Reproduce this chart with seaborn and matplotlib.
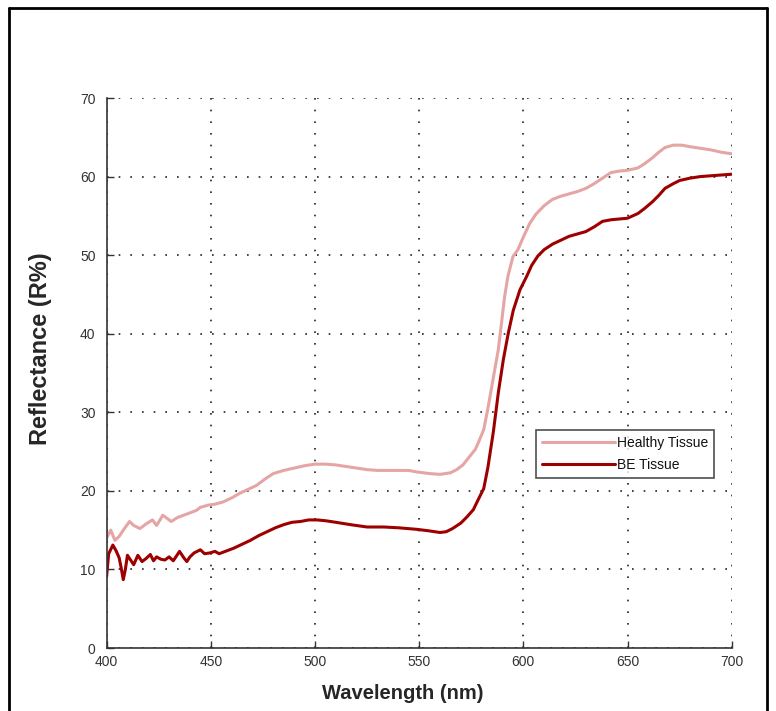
import matplotlib
matplotlib.use("Agg")
import matplotlib.pyplot as plt
from matplotlib.lines import Line2D
import seaborn as sns
import pandas as pd

# ---- data ----
healthy_wl = [400, 402, 404, 406, 408, 411, 413, 416, 419, 422, 424, 427, 429, 431, 434,
              437, 440, 443, 445, 449, 452, 456, 460, 464, 468, 472, 476, 480, 485, 490,
              495, 500, 505, 510, 515, 520, 525, 530, 535, 540, 545, 549, 555, 560, 565,
              568, 571, 574, 577, 579, 581, 583, 585, 587, 588, 589.5, 591, 592.6, 595,
              597.4, 600, 603, 606, 610, 614, 618, 622, 626, 630, 634, 638, 642, 646, 650,
              655, 658, 662, 665, 668, 672, 676, 680, 685, 690, 695, 700]
healthy_r = [14.0, 15.0, 13.7, 14.2, 15.0, 16.1, 15.6, 15.2, 15.8, 16.3, 15.6, 16.9, 16.5, 16.1, 16.6,
             16.9, 17.2, 17.5, 17.9, 18.2, 18.3, 18.6, 19.1, 19.7, 20.2, 20.7, 21.5, 22.2, 22.6, 22.9,
             23.2, 23.4, 23.4, 23.3, 23.1, 22.9, 22.7, 22.6, 22.6, 22.6, 22.6, 22.4, 22.2, 22.1, 22.3,
             22.7, 23.3, 24.3, 25.3, 26.5, 27.8, 30.5, 33.5, 36.5, 38.0, 41.3, 44.7, 47.3, 49.8,
             50.7, 52.3, 54.0, 55.2, 56.3, 57.1, 57.5, 57.8, 58.1, 58.5, 59.1, 59.8, 60.5, 60.7, 60.8,
             61.1, 61.6, 62.4, 63.1, 63.7, 64.0, 64.0, 63.8, 63.6, 63.4, 63.1, 62.9]

be_wl = [400, 401, 403, 404.5, 406, 407, 408, 409, 410, 411.5, 413, 415, 417, 419, 421,
         422.5, 424, 426, 428, 430, 432, 435, 437, 438.5, 440, 442, 445, 447, 449.6, 452,
         454, 457, 461, 465, 469, 473, 477, 481, 485, 489, 493, 497, 501, 505, 510, 517,
         525, 533, 540, 549, 555, 560, 563, 566, 570, 573, 576, 578, 581, 583, 585.6, 588,
         590.4, 592.8, 595.2, 598.4, 601.6, 604, 607, 610, 614, 618, 622, 626, 630, 634,
         638, 642, 646, 650, 655, 658, 662, 665, 668, 672, 675, 680, 685, 690, 695, 700]
be_r = [9.1, 12.0, 13.1, 12.4, 11.5, 10.2, 8.7, 10.0, 11.8, 11.2, 10.6, 11.8, 11.0, 11.4, 11.9,
        11.1, 11.6, 11.3, 11.2, 11.6, 11.1, 12.3, 11.5, 11.0, 11.6, 12.1, 12.5, 12.0, 12.1, 12.3,
        12.0, 12.3, 12.7, 13.2, 13.7, 14.3, 14.8, 15.3, 15.7, 16.0, 16.1, 16.3, 16.3, 16.2, 16.0, 15.7,
        15.4, 15.4, 15.3, 15.1, 14.9, 14.7, 14.8, 15.2, 15.9, 16.7, 17.6, 18.7, 20.3, 23.0, 27.5, 32.5,
        36.7, 40.1, 43.0, 45.6, 47.3, 48.7, 49.9, 50.7, 51.4, 51.9, 52.4, 52.7, 53.0, 53.6,
        54.3, 54.5, 54.6, 54.7, 55.3, 55.9, 56.8, 57.6, 58.5, 59.1, 59.5, 59.8, 60.0, 60.1, 60.2, 60.3]

x_ticks = [400, 450, 500, 550, 600, 650, 700]
y_ticks = [0, 10, 20, 30, 40, 50, 60, 70]
labels = ["Healthy Tissue", "BE Tissue"]

# ---- style ----
sns.set_style("white")
plt.rcParams["font.family"] = ["Liberation Sans", "DejaVu Sans"]

fig = plt.figure(figsize=(7.76, 7.11), dpi=100)
ax = fig.add_axes([106.6 / 776, 1 - 648 / 711, (731.7 - 106.6) / 776, 550 / 711])

df_h = pd.DataFrame({"wl": healthy_wl, "r": healthy_r})
df_b = pd.DataFrame({"wl": be_wl, "r": be_r})
sns.lineplot(data=df_h, x="wl", y="r", ax=ax, color="#E6A5A5", lw=2.2, label=labels[0],
             estimator=None)
sns.lineplot(data=df_b, x="wl", y="r", ax=ax, color="#9E0000", lw=2.2, label=labels[1],
             estimator=None)

ax.set_xlim(400, 700)
ax.set_ylim(0, 70)
ax.set_xticks(x_ticks)
ax.set_yticks(y_ticks)
ax.grid(True, color="#222222", linestyle=(0, (1, 6)), linewidth=1.2)
for s in ["top", "right"]:
    ax.spines[s].set_visible(False)
for s in ["left", "bottom"]:
    ax.spines[s].set_color("#333333")
    ax.spines[s].set_linewidth(1.2)
ax.tick_params(direction="in", length=5, width=1, color="#333333", labelcolor="#333333",
               labelsize=10, bottom=True, left=True)
ax.tick_params(axis="x", pad=5)
ax.tick_params(axis="y", pad=8)

ax.set_xlabel("Wavelength (nm)", fontsize=14.5, fontweight="bold")
ax.set_ylabel("Reflectance (R%)", fontsize=17, fontweight="bold")
ax.xaxis.set_label_coords(0.474, -0.066)
ax.yaxis.set_label_coords(-0.088, 0.544)

leg = ax.legend(loc="lower left", bbox_to_anchor=(0.687, 0.309, 0.285, 0.1), mode="expand",
                frameon=True, fancybox=False, edgecolor="#222222", fontsize=10,
                handlelength=5.2, borderpad=0.45, labelspacing=0.55, handletextpad=0.15,
                borderaxespad=0)
leg.get_frame().set_linewidth(1.2)
for t in leg.get_texts():
    t.set_color("#111111")

# outer frame of the figure
lw = 2
fig.add_artist(Line2D([9 / 776, 9 / 776], [0, 1 - 8 / 711], color="black", lw=lw))
fig.add_artist(Line2D([767 / 776, 767 / 776], [0, 1 - 8 / 711], color="black", lw=lw))
fig.add_artist(Line2D([9 / 776, 767 / 776], [1 - 8 / 711, 1 - 8 / 711], color="black", lw=lw))

fig.savefig("out.png", dpi=100)
